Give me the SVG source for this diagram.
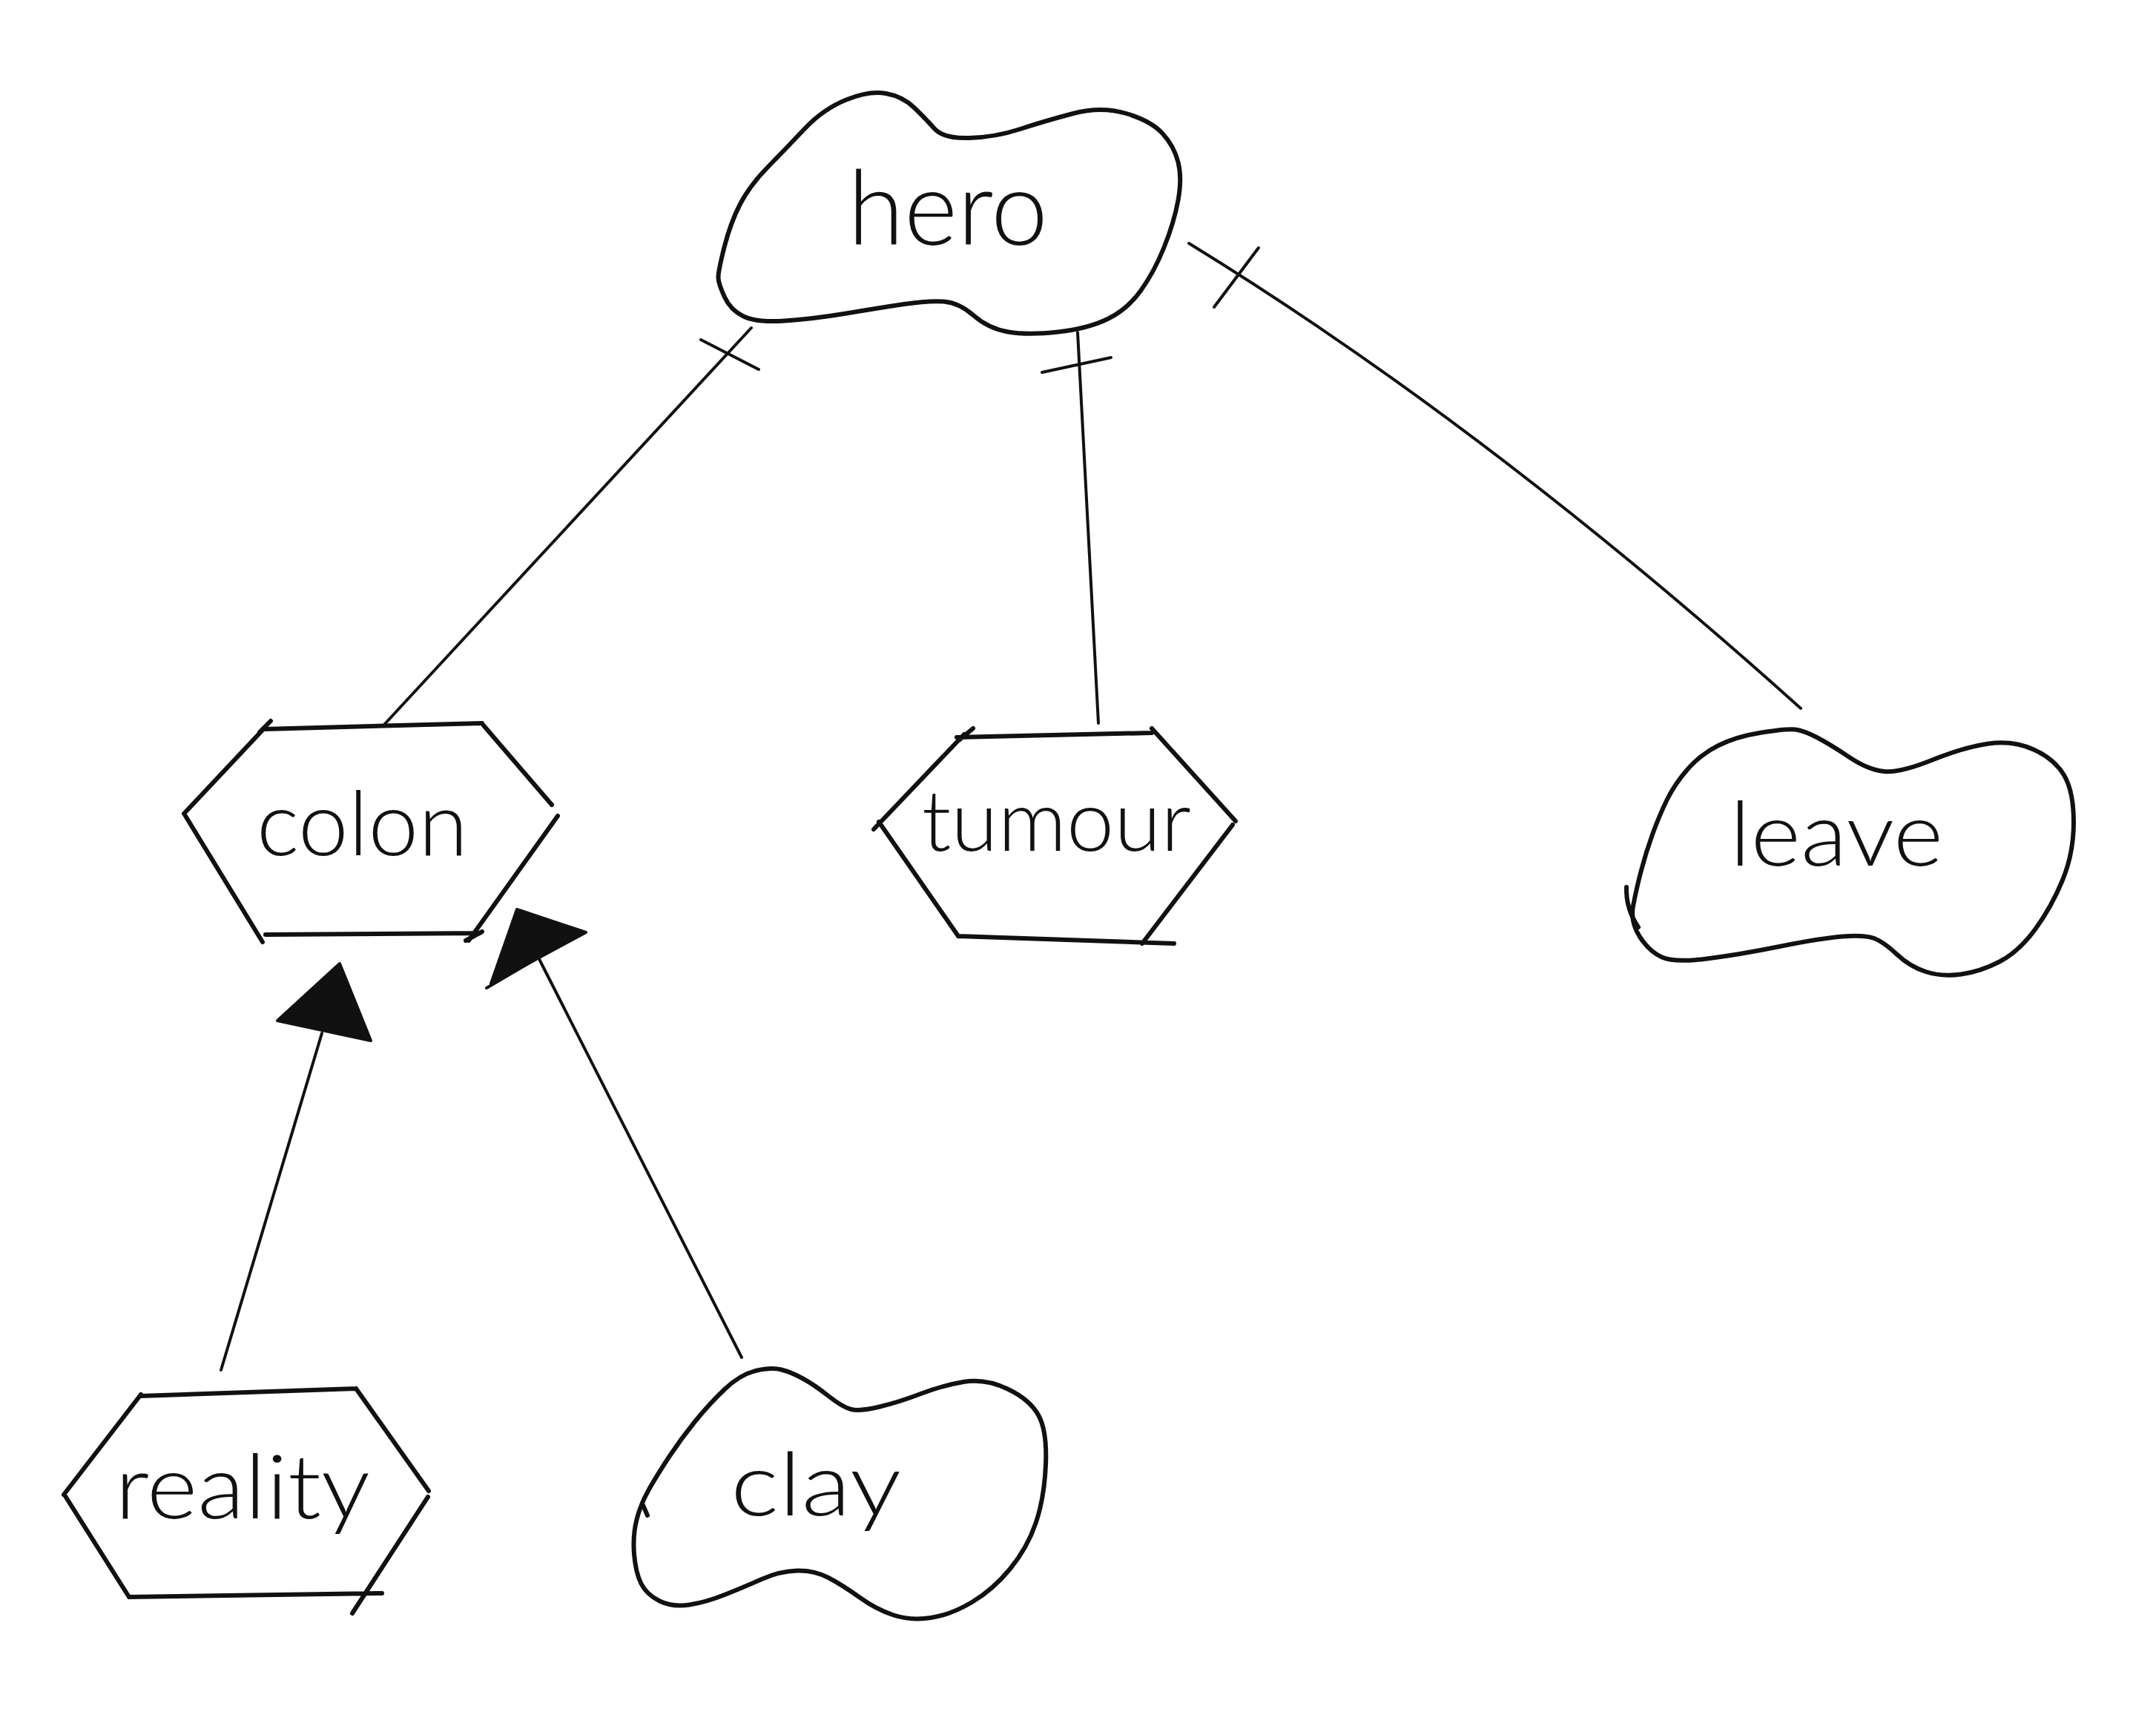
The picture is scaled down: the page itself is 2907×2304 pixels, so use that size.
<svg xmlns="http://www.w3.org/2000/svg" width="2907" height="2304" viewBox="0 0 2907 2304">
<style>
.o{fill:none;stroke:#111;stroke-width:6;stroke-linecap:round;stroke-linejoin:round}
.c{fill:none;stroke:#111;stroke-width:4;stroke-linecap:round;stroke-linejoin:round}
.h{fill:#111;stroke:#111;stroke-width:4;stroke-linejoin:round}
.t{font-family:Lato,"Liberation Sans",sans-serif;font-weight:300;fill:#111;text-anchor:start}
</style>
<rect width="2907" height="2304" fill="#fff"/>
<g id="connectors">
  <path class="c" d="M1013,442 L517,978"/>
  <path class="c" d="M945,458 L1023,498"/>
  <path class="c" d="M1453,448 L1481,975"/>
  <path class="c" d="M1405,502 L1498,482"/>
  <path class="c" d="M1603,328 Q2004,574 2428,955"/>
  <path class="c" d="M1637,414 Q1670,370 1697,334"/>
  <path class="c" d="M298,1847 L434,1393"/>
  <polygon class="h" points="458,1299 374,1376 500,1403"/>
  <path class="c" d="M1000,1830 L727,1293"/>
  <polygon class="h" points="697,1226 662,1326 790,1257"/>
  <path class="c" d="M656,1332 L772,1264"/>
</g>
<g id="hero">
  <path class="o" d="M968.5,375 Q968,367 976.5,333.5 Q985,300 998,275 Q1011,250 1035.5,225 Q1060,200 1085,173.5 Q1110,147 1141,134.5 Q1172,122 1194.5,126 Q1217,130 1232.5,145 Q1248,160 1260,173.5 Q1272,187 1307,186 Q1342,185 1375.5,174 Q1409,163 1447,153 Q1485,143 1518.5,153 Q1552,163 1567.5,180 Q1583,197 1588.5,218.5 Q1594,240 1588.5,270 Q1583,300 1569.5,333.5 Q1556,367 1538,392 Q1520,417 1493.5,430 Q1467,443 1426.5,447.5 Q1386,452 1359.5,447.5 Q1333,443 1313,425.5 Q1293,408 1272.5,406.5 Q1252,405 1219,410 Q1186,415 1141,422.5 Q1096,430 1058,432.5 Q1020,435 1002.5,426.5 Q985,418 977,400.5 Q969,383 968.5,375 Z"/>
  <text class="t" x="1143" y="330" font-size="140" textLength="270" lengthAdjust="spacingAndGlyphs">hero</text>
</g>
<g id="colon">
  <path class="o" d="M356,983 L650,975 M652,978 L744,1085 M752,1100 L632,1268 M358,1260 L647,1258 M628,1268 L650,1256 M354,1270 L250,1100 M248,1097 L358,980 M350,987 L365,972"/>
  <text class="t" x="346" y="1153" font-size="120" textLength="285" lengthAdjust="spacingAndGlyphs">colon</text>
</g>
<g id="tumour">
  <path class="o" d="M1290,994 L1553,988 M1553,982 L1666,1107 M1662,1112 L1540,1272 M1292,1262 L1583,1272 M1292,1262 L1185,1108 M1178,1118 L1300,990 M1293,998 L1312,982"/>
  <text class="t" x="1243" y="1147" font-size="115" textLength="363" lengthAdjust="spacingAndGlyphs">tumour</text>
</g>
<g id="leave">
  <path class="o" d="M2421,983.5 Q2410,982 2375.5,987.5 Q2341,993 2317,1005 Q2293,1017 2275.5,1037 Q2258,1057 2247.5,1078.5 Q2237,1100 2228,1125 Q2219,1150 2212.5,1175 Q2206,1200 2202,1221.5 Q2198,1243 2211,1263 Q2224,1283 2241,1290.5 Q2258,1298 2301.5,1292.5 Q2345,1287 2399.5,1276 Q2454,1265 2484,1262.5 Q2514,1260 2527,1265 Q2540,1270 2557.5,1286.5 Q2575,1303 2596.5,1310 Q2618,1317 2644,1313.5 Q2670,1310 2696,1296.5 Q2722,1283 2744,1253 Q2766,1223 2781,1186.5 Q2796,1150 2796,1108.5 Q2796,1067 2783,1045 Q2770,1023 2742,1010.5 Q2714,998 2681.5,1002.5 Q2649,1007 2605.5,1024.5 Q2562,1042 2540.5,1040 Q2519,1038 2493,1020.5 Q2467,1003 2449.5,994 Q2432,985 2421,983.5 Z"/>
  <path class="o" d="M2193,1196 Q2192,1225 2209,1250"/>
  <text class="t" x="2332" y="1167" font-size="120" textLength="288" lengthAdjust="spacingAndGlyphs">leave</text>
</g>
<g id="reality">
  <path class="o" d="M190,1882 L480,1872 M480,1872 L578,2010 M577,2018 L475,2175 M174,2153 L515,2148 M174,2153 L88,2017 M86,2015 L190,1880"/>
  <text class="t" x="155" y="2047" font-size="120" textLength="344" lengthAdjust="spacingAndGlyphs">reality</text>
</g>
<g id="clay">
  <path class="o" d="M1053.5,1846.5 Q1040,1843 1019,1848 Q998,1853 977,1873 Q956,1893 937,1916.5 Q918,1940 902.5,1963.5 Q887,1987 875.5,2007 Q864,2027 858.5,2048.5 Q853,2070 855,2095 Q857,2120 864.5,2135 Q872,2150 889.5,2158.5 Q907,2167 929.5,2163.5 Q952,2160 977,2150 Q1002,2140 1027,2129 Q1052,2118 1075,2117.5 Q1098,2117 1117,2127 Q1136,2137 1159,2153.5 Q1182,2170 1205,2177.5 Q1228,2185 1255,2181 Q1282,2177 1310.5,2160 Q1339,2143 1362,2115 Q1385,2087 1396.5,2053.5 Q1408,2020 1410,1975 Q1412,1930 1400.5,1908.5 Q1389,1887 1358.5,1872.5 Q1328,1858 1299,1863 Q1270,1868 1241.5,1879 Q1213,1890 1186,1896.5 Q1159,1903 1147.5,1900 Q1136,1897 1117,1882 Q1098,1867 1082.5,1858.5 Q1067,1850 1053.5,1846.5 Z"/>
  <path class="o" d="M866,2027 L873,2043"/>
  <text class="t" x="985" y="2043" font-size="118" textLength="230" lengthAdjust="spacingAndGlyphs">clay</text>
</g>
</svg>
